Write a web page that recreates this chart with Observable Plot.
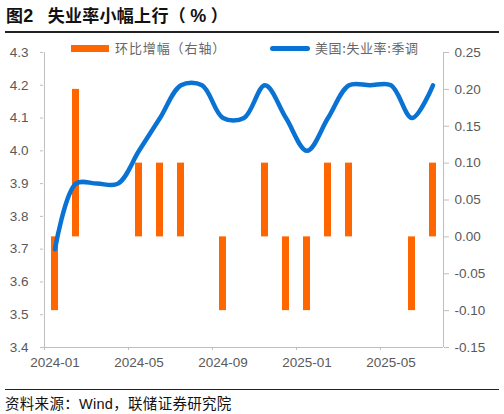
<!DOCTYPE html>
<html>
<head>
<meta charset="utf-8">
<script src="https://cdn.jsdelivr.net/npm/d3@7"></script>
<script src="https://cdn.jsdelivr.net/npm/@observablehq/plot@0.6"></script>
<style>
  body { margin: 0; background: #fff; }
  #wrap { position: relative; width: 504px; height: 414px; overflow: hidden; background: #fff; }
  .abs { position: absolute; white-space: nowrap; }
  #title { left: 6px; top: 2px; font: bold 17px "Noto Sans CJK SC", sans-serif; color: #111; letter-spacing: 0.3px; }
  #title .n { font-family: "Liberation Sans", Arial, sans-serif; font-size: 18px; }
  .rule { left: 5px; width: 494px; height: 1.5px; background: #222; }
  .leg { font: 13px "Noto Sans CJK SC", sans-serif; color: #666; top: 38px; letter-spacing: 0.9px; }
  #src { left: 5px; top: 392px; font: 14.5px "Noto Sans CJK SC", sans-serif; color: #111; letter-spacing: 0.3px; }
  #src .w { font-family: "Liberation Sans", Arial, sans-serif; }
  #chart { position: absolute; left: 0; top: 0; }
</style>
</head>
<body>
<div id="wrap">
  <div id="chart"></div>
  <div class="abs" id="title">图<span class="n">2</span><span style="display:inline-block;width:14px"></span>失业率小幅上行（ <span class="n">%</span> ）</div>
  <div class="abs rule" style="top:31px"></div>
  <div class="abs" style="left:71px;top:44.5px;width:38px;height:7px;background:#FF6600"></div>
  <div class="abs leg" style="left:115px">环比增幅（右轴）</div>
  <div class="abs" style="left:270px;top:45.5px;width:40px;height:5px;background:#0A72D2;border-radius:3px"></div>
  <div class="abs leg" style="left:315px;letter-spacing:0.6px">美国:失业率:季调</div>
  <div class="abs rule" style="top:388.5px"></div>
  <div class="abs" id="src">资料来源：<span class="w">Wind</span>，联储证券研究院</div>
</div>
<script>
// Data
const months = ["2024-01","2024-02","2024-03","2024-04","2024-05","2024-06","2024-07","2024-08","2024-09","2024-10","2024-11","2024-12","2025-01","2025-02","2025-03","2025-04","2025-05","2025-06","2025-07"];
const rate = [3.7,3.9,3.9,3.9,4.0,4.1,4.2,4.2,4.1,4.1,4.2,4.1,4.0,4.1,4.2,4.2,4.2,4.1,4.2];
const change = [-0.1,0.2,0,0,0.1,0.1,0.1,0,-0.1,0,0.1,-0.1,-0.1,0.1,0.1,0,0,-0.1,0.1];
const xTickLabels = ["2024-01","2024-05","2024-09","2025-01","2025-05"];
const leftTicks = [3.4,3.5,3.6,3.7,3.8,3.9,4.0,4.1,4.2,4.3];
const rightTicks = [-0.15,-0.10,-0.05,0.00,0.05,0.10,0.15,0.20,0.25];

// right-axis [-0.15,0.25] mapped onto left-axis [3.4,4.3]
const L0 = 3.4, L1 = 4.3, R0 = -0.15, R1 = 0.25;
const toLeft = v => L0 + (v - R0) * (L1 - L0) / (R1 - R0);
const toRight = d => { const r = Math.round(((d - L0) * (R1 - R0) / (L1 - L0) + R0) * 100) / 100; return (r + 0).toFixed(2).replace("-0.00","0.00"); };

const rows = months.map((m, i) => ({month: m, rate: rate[i], change: change[i]}));
const bars = rows.filter(d => d.change !== 0);

const W = 504, H = 414, mL = 43, mR = 61;
const bw = (W - mL - mR) / months.length;
const tickColor = "#BFBFBF";

const chart = Plot.plot({
  width: W, height: H,
  marginLeft: mL, marginRight: mR, marginTop: 52, marginBottom: H - 347,
  style: {fontSize: "13.5px", fontFamily: "'Liberation Sans', Arial, sans-serif", color: "#595959", background: "transparent"},
  x: {type: "band", domain: months, padding: 0, axis: null},
  y: {domain: [L0, L1], axis: null},
  marks: [
    Plot.ruleX([months[0]], {dx: -bw/2, stroke: tickColor, strokeWidth: 1}),
    Plot.ruleX([months[months.length-1]], {dx: bw/2, stroke: tickColor, strokeWidth: 1}),
    Plot.ruleY([L0], {stroke: tickColor, strokeWidth: 1}),
    Plot.barY(bars, {x: "month", y1: () => toLeft(0), y2: d => toLeft(d.change), fill: "#FF6600", insetLeft: 7, insetRight: 7}),
    Plot.line(rows, {x: "month", y: "rate", stroke: "#0A72D2", strokeWidth: 4.5, curve: "catmull-rom", strokeLinecap: "round", strokeLinejoin: "round"}),
    Plot.axisY({anchor: "left", ticks: leftTicks, tickFormat: d3.format(".1f"), tickSize: 3, tickPadding: 12, stroke: tickColor, fill: "#595959", label: null}),
    Plot.axisY({anchor: "right", ticks: rightTicks.map(toLeft), tickFormat: toRight, tickSize: 5, tickPadding: 6, stroke: tickColor, fill: "#595959", label: null}),
    Plot.axisX({ticks: xTickLabels, tickSize: 0, tickPadding: 10, fill: "#595959", label: null}),
    Plot.axisX({ticks: xTickLabels, tickSize: 3, tickFormat: () => "", dx: -bw/2, stroke: tickColor, label: null})
  ]
});
document.getElementById("chart").appendChild(chart);
</script>
</body>
</html>
